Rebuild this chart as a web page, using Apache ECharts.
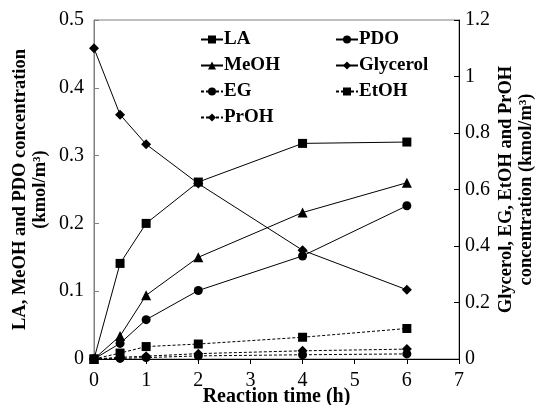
<!DOCTYPE html>
<html>
<head>
<meta charset="utf-8">
<script src="https://cdn.jsdelivr.net/npm/echarts@6/dist/echarts.min.js"></script>
<style>
html,body{margin:0;padding:0;background:#fff;}
#c{width:543px;height:405px;}
</style>
</head>
<body>
<div id="c"></div>
<script>
const time = [0, 0.5, 1, 2, 4, 6];
const LA = [0, 0.141, 0.2, 0.261, 0.318, 0.32];
const MeOH = [0, 0.034, 0.094, 0.15, 0.216, 0.26];
const PDO = [0, 0.023, 0.058, 0.101, 0.152, 0.226];
const Glycerol = [1.1, 0.865, 0.76, 0.621, 0.385, 0.245];
const EG = [0, 0.002, 0.005, 0.011, 0.015, 0.018];
const EtOH = [0, 0.021, 0.044, 0.053, 0.077, 0.108];
const PrOH = [0, 0.006, 0.01, 0.019, 0.029, 0.035];

const xTicks = [0, 1, 2, 3, 4, 5, 6, 7];
const leftTicks = [0, 0.1, 0.2, 0.3, 0.4, 0.5];
const rightTicks = [0, 0.2, 0.4, 0.6, 0.8, 1, 1.2];

const FONT = '"Liberation Serif", "Times New Roman", serif';

function pairs(ys){ return time.map((t,i)=>[t, ys[i]]); }

function mk(name, ys, symbol, size, yIdx, dashed){
  return {
    name: name, type: 'line', yAxisIndex: yIdx, data: pairs(ys),
    symbol: symbol, symbolSize: size, showSymbol: true,
    lineStyle: {color: '#000', width: 1, type: dashed ? [3,2] : 'solid'},
    itemStyle: {color: '#000', borderWidth: 0},
    animation: false, z: dashed ? 2 : 3
  };
}

const legendText = {fontFamily: FONT, fontWeight: 'bold', fontSize: 19, color: '#000', padding: [0,0,0,-4]};

const chart = echarts.init(document.getElementById('c'), null, {renderer: 'canvas'});
chart.setOption({
  backgroundColor: '#fff',
  animation: false,
  grid: {left: 94, right: 84, top: 20, bottom: 46, show: true, borderColor: '#808080', borderWidth: 1,
         containLabel: false, outerBoundsMode: 'none'},
  xAxis: {
    type: 'value', min: xTicks[0], max: xTicks[xTicks.length-1], interval: 1,
    name: 'Reaction time (h)', nameLocation: 'middle', nameGap: 28, nameMoveOverlap: false,
    nameTextStyle: {fontFamily: FONT, fontWeight: 'bold', fontSize: 20, color: '#000'},
    axisLine: {lineStyle: {color: '#000', width: 1}},
    axisTick: {show: true, inside: false, length: 5, lineStyle: {color: '#000'}},
    axisLabel: {fontFamily: FONT, fontSize: 20, color: '#000', margin: 12},
    splitLine: {show: false}
  },
  yAxis: [
    {
      type: 'value', min: leftTicks[0], max: leftTicks[leftTicks.length-1], interval: 0.1,
      position: 'left',
      name: 'LA, MeOH and PDO concentration\n(kmol/m³)',
      nameLocation: 'middle', nameGap: 44, nameRotate: 90, nameMoveOverlap: false,
      nameTextStyle: {fontFamily: FONT, fontWeight: 'bold', fontSize: 18.5, color: '#000', lineHeight: 20, align: 'center'},
      axisLine: {show: true, lineStyle: {color: '#808080', width: 1}},
      axisTick: {show: true, inside: true, length: 5, lineStyle: {color: '#808080'}},
      axisLabel: {fontFamily: FONT, fontSize: 20, color: '#000', margin: 10},
      splitLine: {show: false}
    },
    {
      type: 'value', min: rightTicks[0], max: rightTicks[rightTicks.length-1], interval: 0.2,
      position: 'right',
      name: 'Glycerol, EG, EtOH and PrOH\nconcentration (kmol/m³)',
      nameLocation: 'middle', nameGap: 37, nameRotate: 90, nameMoveOverlap: false,
      nameTextStyle: {fontFamily: FONT, fontWeight: 'bold', fontSize: 18.5, color: '#000', lineHeight: 20, align: 'center'},
      axisLine: {show: true, lineStyle: {color: '#000', width: 1}},
      axisTick: {show: true, inside: true, length: 5, lineStyle: {color: '#000'}},
      axisLabel: {fontFamily: FONT, fontSize: 20, color: '#000', margin: 6,
        formatter: v => String(Math.round(v*10)/10)},
      splitLine: {show: false}
    }
  ],
  legend: [
    {
      data: ['LA', 'MeOH', 'EG', 'PrOH'], orient: 'vertical', left: 195, top: 25,
      itemWidth: 22, itemHeight: 10, itemGap: 7,
      textStyle: legendText, selectedMode: false
    },
    {
      data: ['PDO', 'Glycerol', 'EtOH'], orient: 'vertical', left: 330, top: 25,
      itemWidth: 22, itemHeight: 10, itemGap: 7,
      textStyle: legendText, selectedMode: false
    }
  ],
  series: [
    mk('LA', LA, 'rect', 9, 0, false),
    mk('PDO', PDO, 'circle', 9, 0, false),
    mk('MeOH', MeOH, 'triangle', 10, 0, false),
    mk('Glycerol', Glycerol, 'diamond', 10, 1, false),
    mk('EG', EG, 'circle', 9, 1, true),
    mk('EtOH', EtOH, 'rect', 9, 1, true),
    mk('PrOH', PrOH, 'diamond', 10, 1, true)
  ]
});
</script>
</body>
</html>
